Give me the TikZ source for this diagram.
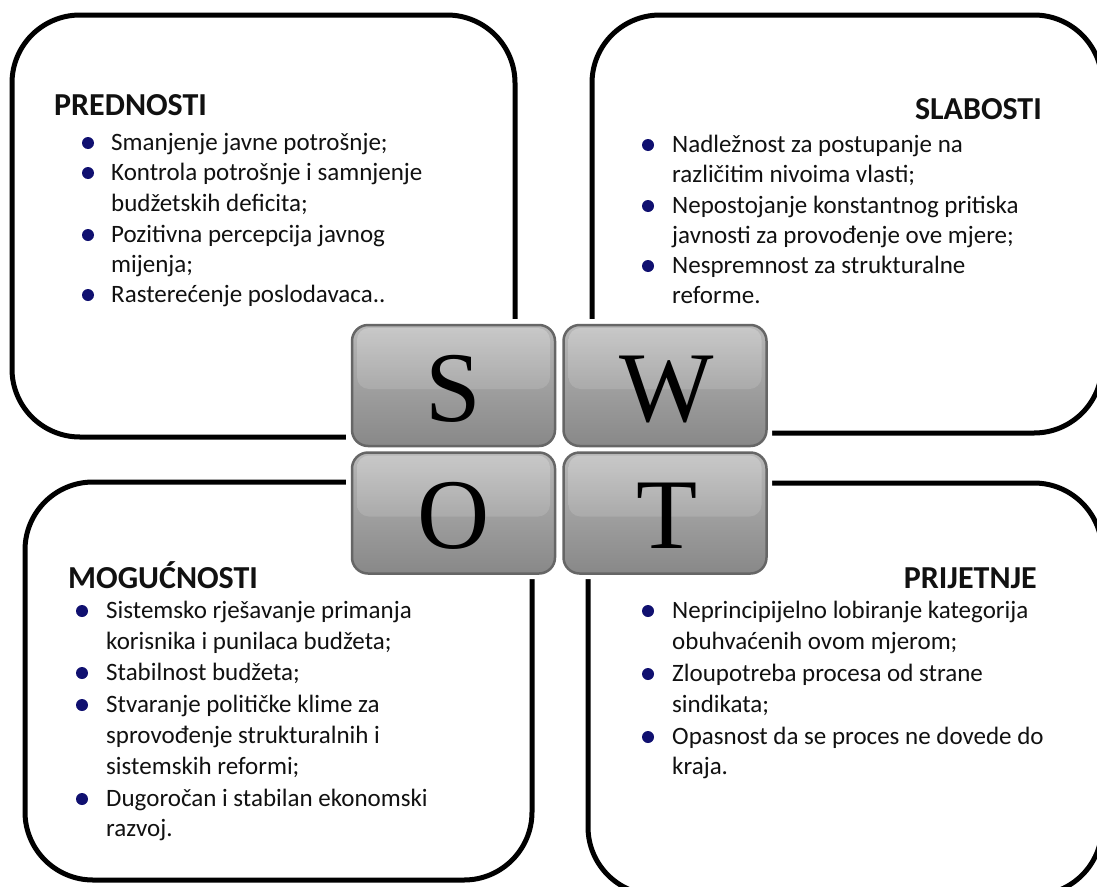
\documentclass[tikz,border=0pt]{standalone}
\usepackage{fontspec}
\setmainfont{Carlito}
\newfontfamily\tilefont{Liberation Serif}
\definecolor{bulletblue}{HTML}{101070}
\definecolor{bodytext}{HTML}{111111}
\definecolor{tileborder}{HTML}{666666}
\definecolor{tiletop}{HTML}{B8B8B8}
\definecolor{tilemid}{HTML}{909090}
\definecolor{tilebot}{HTML}{888888}
\definecolor{glosstop}{HTML}{E4E4E4}
\definecolor{glossbot}{HTML}{999999}
\begin{document}
\begin{tikzpicture}[x=1pt,y=-1pt,
  quad/.style={line width=5pt, rounded corners=68pt},
  body/.style={anchor=base west, inner sep=0pt, text=bodytext, font=\fontsize{25}{30}\selectfont},
  head/.style={inner sep=0pt, text=bodytext, font=\fontsize{32}{38}\selectfont\bfseries},
  dot/.style={fill=bulletblue},
  tile/.style={draw=tileborder, line width=2.5pt, rounded corners=16pt,
    top color=tiletop, middle color=tilemid, bottom color=tilebot,
    minimum width=203pt, minimum height=121pt, inner sep=0pt,
    path picture={\shade[top color=glosstop, bottom color=glossbot, opacity=0.4, rounded corners=12pt]
      ([shift={(5,3)}]path picture bounding box.north west) rectangle
      ([shift={(-5,64)}]path picture bounding box.north east);}},
  letter/.style={inner sep=0pt, text=black, font=\fontsize{100}{100}\selectfont\tilefont}]
\useasboundingbox (0,0) rectangle (1097,886);
\clip (0,0) rectangle (1097,886);
\fill[white] (0,0) rectangle (1097,886);

% quadrant frames
\draw[quad] (12,15) rectangle (515,437);
\draw[quad] (592,15) rectangle (1102,433);
\draw[quad] (25,482) rectangle (532,880);
\draw[quad] (588,483) rectangle (1102,895);

% headings
\node[head, anchor=base west] (hS) at (54,115) {PREDNOSTI};
\node[head, anchor=base east] (hW) at (1042,119) {SLABOSTI};
\node[head, anchor=base west] (hO) at (68,588) {MOGUĆNOSTI};
\node[head, anchor=base east] (hT) at (1037,588) {PRIJETNJE};

% strengths
\foreach \y/\t [count=\i] in {150/{Smanjenje javne potrošnje;},180/{Kontrola potrošnje i samnjenje},211/{budžetskih deficita;},242/{Pozitivna percepcija javnog},272/{mijenja;},302/{Rasterećenje poslodavaca..}}
  \node[body] (s\i) at (111,\y) {\t};
\foreach \y in {150,180,242,302} \fill[dot] (88,\y-7) circle (6pt);

% weaknesses
\foreach \y/\t [count=\i] in {152/{Nadležnost za postupanje na},182/{različitim nivoima vlasti;},213/{Nepostojanje konstantnog pritiska},243/{javnosti za provođenje ove mjere;},273/{Nespremnost za strukturalne},303/{reforme.}}
  \node[body] (w\i) at (672,\y) {\t};
\foreach \y in {152,213,273} \fill[dot] (648,\y-7) circle (6pt);

% opportunities
\foreach \y/\t [count=\i] in {618/{Sistemsko rješavanje primanja},649/{korisnika i punilaca budžeta;},680/{Stabilnost budžeta;},712/{Stvaranje političke klime za},743/{sprovođenje strukturalnih i},774/{sistemskih reformi;},806/{Dugoročan i stabilan ekonomski},836/{razvoj.}}
  \node[body] (o\i) at (106,\y) {\t};
\foreach \y in {618,680,712,806} \fill[dot] (82,\y-7) circle (6pt);

% threats
\foreach \y/\t [count=\i] in {618/{Neprincipijelno lobiranje kategorija},649/{obuhvaćenih ovom mjerom;},681/{Zloupotreba procesa od strane},712/{sindikata;},744/{Opasnost da se proces ne dovede do},774/{kraja.}}
  \node[body] (t\i) at (672,\y) {\t};
\foreach \y in {618,681,744} \fill[dot] (648,\y-7) circle (6pt);

% central SWOT tiles
\fill[white, rounded corners=20pt] (346,319) rectangle (772,579);
\node[tile] (tS) at (453.5,385.5) {};
\node[tile] (tW) at (665,385.5) {};
\node[tile] (tO) at (453.5,513) {};
\node[tile] (tT) at (665,513) {};
\node[letter, anchor=base] (lS) at (453.5,421) {S};
\node[letter, anchor=base] (lW) at (667,421) {W};
\node[letter, anchor=base] (lO) at (453.5,548) {O};
\node[letter, anchor=base] (lT) at (667,548) {T};
\end{tikzpicture}
\end{document}
